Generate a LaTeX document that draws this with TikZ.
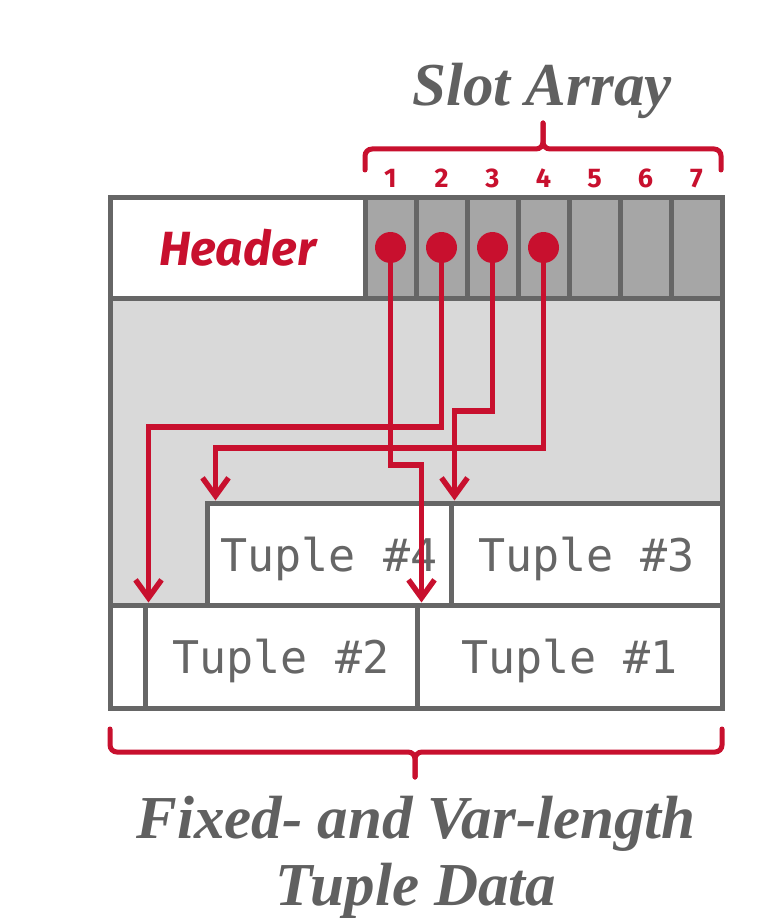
\documentclass[tikz,border=0pt]{standalone}
\usepackage{fontspec}
\setmainfont{Liberation Serif}
\setsansfont{Fira Sans}
\setmonofont{DejaVu Sans Mono}
\usetikzlibrary{arrows.meta}
\definecolor{slotred}{RGB}{200,16,46}
\definecolor{boxgray}{RGB}{102,102,102}
\definecolor{textgray}{RGB}{96,96,96}
\definecolor{slotfill}{RGB}{166,166,166}
\definecolor{freefill}{RGB}{217,217,217}
\tikzset{
  cell/.style={draw=boxgray, line width=5pt, inner sep=0pt, minimum height=101pt},
  slotcell/.style={cell, fill=slotfill, minimum width=51pt},
  tuple/.style={cell, fill=white, minimum height=102pt, text depth=0pt,
    font=\ttfamily\fontsize{45}{45}\selectfont, text=boxgray},
  dot/.style={circle, fill=slotred, inner sep=0pt, minimum size=31pt},
  ptr/.style={draw=slotred, line width=5.5pt, -{Straight Barb[length=18pt,width=26pt]}},
  brace/.style={draw=slotred, line width=5pt, rounded corners=7pt, line cap=round},
  title/.style={font=\bfseries\itshape\fontsize{61}{67}\selectfont, text=textgray},
}
\begin{document}
\begin{tikzpicture}[x=1pt,y=-1pt]
  \useasboundingbox[fill=white] (0,0) rectangle (764,920);
  % free space between slots and tuples
  \fill[freefill] (110,298) rectangle (722,605);
  \node[cell, fill=white, minimum width=255pt, text=slotred,
    font=\sffamily\bfseries\itshape\fontsize{48}{48}\selectfont] (h) at (237.5,247.5) {Header};
  \foreach \i in {1,...,7} {
    \node[slotcell] (s\i) at (339.5+51*\i,247.5) {};
    \node[text=slotred, anchor=base, font=\sffamily\bfseries\fontsize{27}{27}\selectfont]
      (n\i) at (s\i.north |- 0,188) {\i};
  }
  \node[tuple, minimum width=244pt] (t4) at (329,554) {Tuple \#4};
  \node[tuple, minimum width=271pt] (t3) at (586.5,554) {Tuple \#3};
  \node[tuple, minimum width=35pt, minimum height=103pt] (t0) at (127.5,656.5) {};
  \node[tuple, minimum width=272pt, minimum height=103pt] (t2) at (281,656.5) {Tuple \#2};
  \node[tuple, minimum width=305pt, minimum height=103pt] (t1) at (569.5,656.5) {Tuple \#1};
  % page frame
  \draw[boxgray, line width=5pt, line join=round] (110,197) rectangle (722,708);
  % slot pointers
  \foreach \i in {1,...,4}
    \node[dot] (d\i) at (s\i) {};
  \draw[ptr] (d1.center) -- (d1.center |- 0,465) -| ([xshift=7pt]t1.north west);
  \draw[ptr] (d2.center) -- (d2.center |- 0,427) -| ([xshift=6pt]t2.north west);
  \draw[ptr] (d3.center) -- (d3.center |- 0,411) -| ([xshift=6pt]t3.north west);
  \draw[ptr] (d4.center) -- (d4.center |- 0,448) -| ([xshift=11pt]t4.north west);
  % braces
  \draw[brace] (365,170) -- (365,149) -- (543,149) -- (543,123);
  \draw[brace] (721,170) -- (721,149) -- (543,149) -- (543,123);
  \draw[brace] (110,729) -- (110,752) -- (415,752) -- (415,777);
  \draw[brace] (722,729) -- (722,752) -- (415,752) -- (415,777);
  \node[title, anchor=base] (sa) at (542,106) {Slot Array};
  \node[title, align=center, anchor=base] (td) at (416,905) {Fixed- and Var-length\\Tuple Data};
\end{tikzpicture}
\end{document}
